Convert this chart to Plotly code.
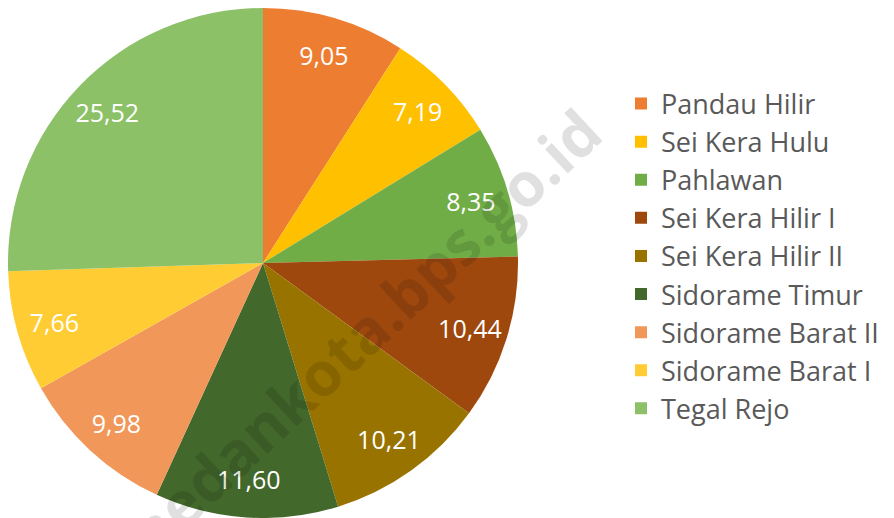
import plotly.graph_objects as go

labels = ["Pandau Hilir", "Sei Kera Hulu", "Pahlawan", "Sei Kera Hilir I",
          "Sei Kera Hilir II", "Sidorame Timur", "Sidorame Barat II",
          "Sidorame Barat I", "Tegal Rejo"]
values = [9.05, 7.19, 8.35, 10.44, 10.21, 11.60, 9.98, 7.66, 25.52]
colors = ["#ED7D31", "#FFC000", "#70AD47", "#9E480E", "#997300",
          "#43682B", "#F1975A", "#FFCD33", "#8CC168"]
value_text = [f"{v:.2f}".replace(".", ",") for v in values]

# page body has an 8px margin; figure sized to fit the window
W, H = 886, 510
OFF = 8
cx, cy, R = 255, 255, 255
dom = dict(x=[max(0, (cx - R) / W), (cx + R) / W],
           y=[max(0, 1 - (cy + R) / H), min(1, 1 - (cy - R) / H)])

fig = go.Figure()
fig.add_trace(go.Pie(
    labels=labels, values=values, sort=False, direction="clockwise", rotation=0,
    marker=dict(colors=colors, line=dict(width=0)),
    textinfo="none", hoverinfo="label+value", domain=dom,
))
# transparent ring trace used only to place the value labels near the rim
fig.add_trace(go.Pie(
    labels=labels, values=values, sort=False, direction="clockwise", rotation=0,
    hole=0.7, showlegend=False,
    marker=dict(colors=["rgba(0,0,0,0)"] * len(values), line=dict(width=0)),
    text=value_text, textinfo="text", textposition="inside",
    insidetextorientation="horizontal",
    textfont=dict(color="white", size=25, family="Open Sans"),
    hoverinfo="skip", domain=dom,
))

fig.add_annotation(text="<b>medankota.bps.go.id</b>", x=(356 - OFF) / W, y=1 - (338 - OFF) / H,
                   xref="paper", yref="paper", showarrow=False, textangle=-43,
                   font=dict(size=61, family="Open Sans", color="rgba(0,0,0,0.12)"))

fig.update_layout(
    width=W, height=H, margin=dict(l=0, r=0, t=0, b=0),
    paper_bgcolor="white", plot_bgcolor="white",
    legend=dict(x=(621 - OFF) / W, y=1 - (256 - OFF) / H, xanchor="left", yanchor="middle",
                font=dict(size=27, family="Open Sans", color="#595959"),
                itemwidth=30, tracegroupgap=0),
)
fig.write_html("out.html")
